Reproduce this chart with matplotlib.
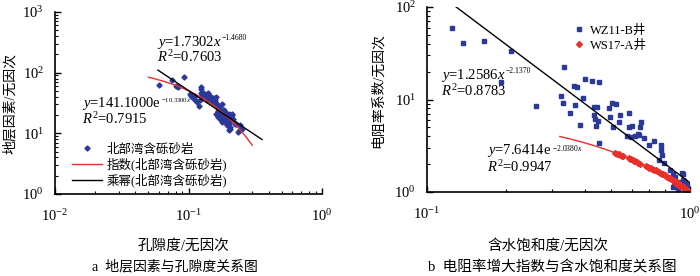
import numpy as np
import matplotlib
matplotlib.use('Agg')
import matplotlib.pyplot as plt
from matplotlib.ticker import NullFormatter

plt.rcParams['font.family'] = ['Liberation Serif', 'Noto Sans CJK SC']
plt.rcParams['mathtext.fontset'] = 'custom'
plt.rcParams['mathtext.rm'] = 'Liberation Serif'
plt.rcParams['mathtext.it'] = 'Liberation Serif:italic'

# %% data - panel a (porosity vs formation factor)
por = [0.060, 0.075, 0.080, 0.092, 0.084, 0.103, 0.107, 0.111, 0.115, 0.125,
       0.125, 0.127, 0.136, 0.140, 0.145, 0.153, 0.162, 0.149, 0.162, 0.178,
       0.172, 0.167, 0.162, 0.167, 0.172, 0.183, 0.195, 0.200, 0.188, 0.205,
       0.210, 0.216, 0.195, 0.205, 0.228, 0.243, 0.250, 0.125, 0.127, 0.133,
       0.140, 0.158, 0.122, 0.119, 0.112, 0.105, 0.178, 0.183, 0.188, 0.200,
       0.195, 0.210, 0.222, 0.205, 0.200, 0.243, 0.236, 0.167, 0.178, 0.150,
       0.170, 0.185, 0.192, 0.176, 0.165, 0.158, 0.212, 0.180, 0.190, 0.200]
ff = [62.7, 76.0, 60.5, 86.0, 57.0, 44.6, 39.5, 41.9, 32.6, 54.0,
      47.0, 43.0, 39.5, 34.8, 42.0, 38.5, 39.5, 32.6, 31.4, 30.6,
      26.9, 23.7, 21.0, 18.5, 17.4, 19.8, 21.0, 18.5, 15.3, 16.3,
      19.8, 17.4, 13.5, 11.9, 14.4, 11.2, 12.0, 57.6, 47.5, 44.6,
      45.6, 35.7, 34.8, 28.7, 35.7, 42.0, 21.0, 17.4, 19.8, 21.0,
      16.3, 16.3, 14.4, 12.7, 11.2, 13.5, 10.5, 22.3, 15.3, 36.0,
      28.0, 24.0, 22.0, 20.0, 26.0, 30.0, 20.5, 23.0, 18.0, 14.5]
exp_a = (141.1000, -10.3300)
pow_a = (1.7302, -1.4680)

# %% data - panel b (water saturation vs resistivity index)
sw_b = [0.125, 0.137, 0.165, 0.209, 0.191, 0.260, 0.322, 0.332, 0.328, 0.350,
        0.363, 0.372, 0.366, 0.382, 0.391, 0.400, 0.424, 0.452, 0.430, 0.444,
        0.433, 0.435, 0.439, 0.445, 0.452, 0.491, 0.505, 0.525, 0.498, 0.511,
        0.535, 0.540, 0.585, 0.585, 0.574, 0.600, 0.595, 0.641, 0.653, 0.647,
        0.618, 0.632, 0.668, 0.700, 0.730, 0.776, 0.776, 0.780, 0.759, 0.793,
        0.840, 0.860, 0.880, 0.860, 0.900, 0.944, 0.940, 0.950, 0.920, 0.955,
        0.930, 0.970, 0.870, 0.900, 0.960]
ri_b = [59.7, 41.1, 42.9, 33.7, 15.3, 8.5, 10.8, 22.3, 9.1, 7.2,
        14.0, 13.8, 8.8, 5.3, 10.5, 16.7, 16.0, 15.4, 8.4, 8.4,
        6.8, 6.1, 5.2, 5.8, 3.36, 8.1, 9.1, 9.0, 6.5, 5.1,
        5.75, 6.8, 7.1, 5.1, 4.0, 5.2, 3.9, 4.13, 5.7, 5.1,
        4.03, 4.2, 3.8, 3.22, 3.56, 3.22, 2.85, 2.51, 2.22, 2.04,
        1.73, 1.55, 1.45, 1.12, 1.29, 1.55, 1.36, 1.30, 1.20, 1.14,
        1.62, 1.20, 1.18, 1.08, 1.25]
sw_r = [0.520, 0.527, 0.535, 0.542, 0.550, 0.556, 0.585, 0.592, 0.598, 0.605,
        0.612, 0.620, 0.628, 0.636, 0.645, 0.680, 0.690, 0.700, 0.710, 0.720,
        0.730, 0.740, 0.750, 0.760, 0.770, 0.780, 0.790, 0.800, 0.810, 0.820,
        0.830, 0.840, 0.850, 0.860, 0.870, 0.880, 0.890, 0.900, 0.905, 0.910,
        0.920, 0.925, 0.930, 0.940, 0.945, 0.950, 0.955, 0.960, 0.965, 0.970,
        0.975, 0.980, 0.985, 0.990, 0.995, 1.000, 0.880, 0.900, 0.920, 0.940]
ri_r = [2.66, 2.60, 2.56, 2.52, 2.48, 2.46, 2.33, 2.28, 2.26, 2.22,
        2.18, 2.14, 2.10, 2.07, 2.02, 1.91, 1.87, 1.83, 1.80, 1.77,
        1.74, 1.71, 1.67, 1.64, 1.61, 1.58, 1.55, 1.51, 1.49, 1.46,
        1.43, 1.41, 1.37, 1.35, 1.32, 1.30, 1.27, 1.24, 1.22, 1.21,
        1.18, 1.17, 1.16, 1.13, 1.12, 1.10, 1.08, 1.07, 1.06, 1.04,
        1.03, 1.02, 1.01, 1.00, 0.99, 0.98, 1.25, 1.20, 1.15, 1.10]
pow_b = (1.2586, -2.1370)
exp_b = (7.6414, -2.0380)

blue = '#2b3a9a'
red = '#e8302a'
fs_eq = 10.5


def equation(ax, x, y, base, sup, r2, sup_fs=5.5):
    # fitted equation with a small superscript, R^2 underneath
    t = ax.text(x, y, base, transform=ax.transAxes, fontsize=fs_eq, va='center')
    ax.annotate(sup, xy=(1, 1), xycoords=t, xytext=(0.3, -0.5), textcoords='offset points',
                fontsize=sup_fs, va='top', ha='left')
    ax.text(x, y - 0.085, '$R^2$=' + r2, transform=ax.transAxes, fontsize=fs_eq, va='center')


fig = plt.figure(figsize=(7.0, 2.76), dpi=100)
ax1 = fig.add_axes([55/700, 1-194/276, 267/700, 182/276])
ax2 = fig.add_axes([427/700, 1-192/276, 263/700, 185/276])

# %% panel a
ax1.plot(por, ff, 'D', ms=2.6, color=blue, mec=blue, label='北部湾含砾砂岩', ls='none')
xe = np.linspace(0.05, 0.30, 100)
ax1.plot(xe, exp_a[0]*np.exp(exp_a[1]*xe), color=red, lw=1.0, label='指数(北部湾含砾砂岩)')
xp = np.linspace(0.059, 0.355, 100)
ax1.plot(xp, pow_a[0]*xp**pow_a[1], color='black', lw=1.0, label='乘幂(北部湾含砾砂岩)')
ax1.set_xscale('log')
ax1.set_yscale('log')
ax1.set_xlim(0.01, 1)
ax1.set_ylim(1, 1000)
ax1.set_xlabel('孔隙度/无因次', fontsize=10.5, labelpad=10)
ax1.set_ylabel('地层因素/无因次', fontsize=10, labelpad=4)
ax1.xaxis.set_label_coords(0.48, -0.245)
ax1.legend(loc='upper left', bbox_to_anchor=(0.04, 0.31), frameon=False, fontsize=9,
           handlelength=2.4, labelspacing=0.15, borderpad=0.0, handletextpad=0.4)
equation(ax1, 0.382, 0.835, '$y$=1.7302$x$', '\u22121.4680', '0.7603')
equation(ax1, 0.10, 0.495, '$y$=141.1000e', '\u221210.3300$x$', '0.7915', sup_fs=4.8)

# %% panel b
ax2.plot(sw_b, ri_b, 's', ms=2.8, color=blue, mec=blue, label='WZ11-B井', ls='none')
ax2.plot(sw_r, ri_r, 'D', ms=3.0, color=red, mec=red, label='WS17-A井', ls='none')
xe2 = np.linspace(0.32, 1.0, 100)
ax2.plot(xe2, exp_b[0]*np.exp(exp_b[1]*xe2), color=red, lw=1.0)
xp2 = np.linspace(0.1286, 1.0, 100)
ax2.plot(xp2, pow_b[0]*xp2**pow_b[1], color='black', lw=1.0)
ax2.set_xscale('log')
ax2.set_yscale('log')
ax2.set_xlim(0.1, 1)
ax2.set_ylim(1, 100)
ax2.set_xlabel('含水饱和度/无因次', fontsize=10.5, labelpad=10)
ax2.set_ylabel('电阻率系数/无因次', fontsize=10, labelpad=6)
ax2.xaxis.set_label_coords(0.46, -0.25)
ax2.yaxis.set_label_coords(-0.16, 0.55)
ax2.legend(loc='upper left', bbox_to_anchor=(0.53, 0.94), frameon=False, fontsize=9,
           handlelength=1.0, labelspacing=0.25, borderpad=0.0, handletextpad=0.4)
equation(ax2, 0.053, 0.632, '$y$=1.2586$x$', '\u22122.1370', '0.8783')
equation(ax2, 0.228, 0.222, '$y$=7.6414e', '\u22122.0380$x$', '0.9947')

for ax in (ax1, ax2):
    ax.spines['top'].set_visible(False)
    ax.spines['right'].set_visible(False)
    ax.spines['left'].set_linewidth(1.2)
    ax.spines['bottom'].set_linewidth(1.2)
    ax.xaxis.set_minor_formatter(NullFormatter())
    ax.yaxis.set_minor_formatter(NullFormatter())
    ax.tick_params(which='both', direction='in', labelsize=10.5)
    ax.tick_params(which='major', length=4, width=1.0, pad=8)
    ax.tick_params(which='minor', length=2.5, width=0.8)
    ax.tick_params(axis='x', which='major', pad=10)

fig.text(175/700, 1-267/276, 'a  地层因素与孔隙度关系图', ha='center', va='center', fontsize=10)
fig.text(552/700, 1-267/276, 'b  电阻率增大指数与含水饱和度关系图', ha='center', va='center', fontsize=10.5)

fig.savefig('out.png', dpi=100)
